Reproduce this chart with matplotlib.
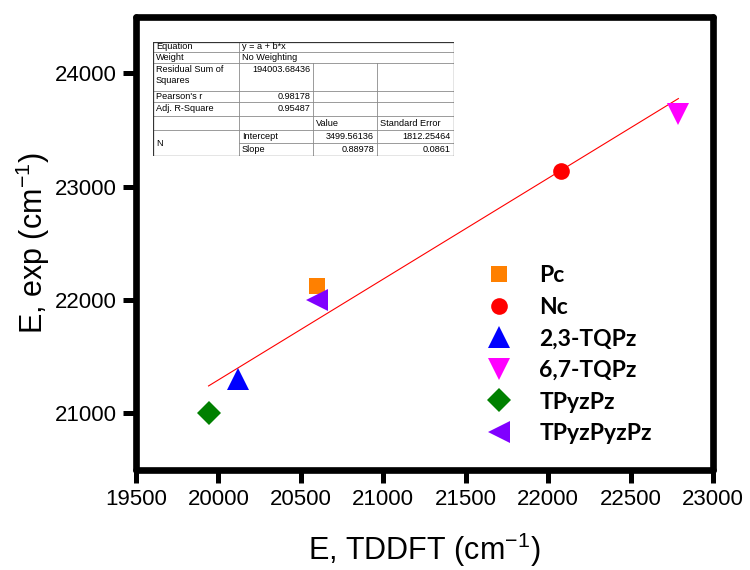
import matplotlib.pyplot as plt
import numpy as np

plt.rcParams['font.family'] = ['Liberation Sans', 'DejaVu Sans']
plt.rcParams['mathtext.default'] = 'regular'

# dados
compostos = ['Pc', 'Nc', '2,3-TQPz', '6,7-TQPz', 'TPyzPz', 'TPyzPyzPz']
e_tddft = [20600, 22080, 20120, 22790, 19940, 20600]
e_exp = [22120, 23140, 21300, 23640, 21000, 22000]
marcadores = ['s', 'o', '^', 'v', 'D', '<']
cores = ['#FF8000', '#FF0000', '#0000FF', '#FF00FF', '#008000', '#8000FF']
tamanhos = [12, 12, 16, 16, 12, 16]

# ajuste linear (valores da tabela)
intercepto = 3499.56136
inclinacao = 0.88978

# tabela de resultados do ajuste
tab_linhas = [
    ('Equation', 'y = a + b*x', '', ''),
    ('Weight', 'No Weighting', '', ''),
    ('Residual Sum of\nSquares', '194003.68436', '', ''),
    ("Pearson's r", '0.98178', '', ''),
    ('Adj. R-Square', '0.95487', '', ''),
    ('', '', 'Value', 'Standard Error'),
    ('N', 'Intercept', '3499.56136', '1812.25464'),
    ('', 'Slope', '0.88978', '0.0861'),
]

W, H = 750, 570
fig = plt.figure(figsize=(W / 100, H / 100), dpi=100)
ax = fig.add_axes([136 / W, 1 - 470 / H, 577 / W, 453.3 / H])

# reta ajustada
xr = np.array([min(e_tddft), max(e_tddft)])
ax.plot(xr, intercepto + inclinacao * xr, color='#FF0000', lw=0.8, zorder=2)

for nome, x, y, m, c, s in zip(compostos, e_tddft, e_exp, marcadores, cores, tamanhos):
    ax.plot(x, y, ls='none', marker=m, color=c, markersize=s, mew=0, label=nome, zorder=3)

ax.set_xlim(19500, 23000)
ax.set_ylim(20500, 24500)
ax.set_xticks(np.arange(19500, 23001, 500))
ax.set_yticks([21000, 22000, 23000, 24000])

for sp in ax.spines.values():
    sp.set_linewidth(4.8)
    sp.set_capstyle('round')
ax.tick_params(width=3.6, length=9.5, pad=4, labelsize=16, direction='out')
ax.tick_params(top=False, right=False)

ax.set_xlabel('E, TDDFT (cm$^{-1}$)', fontsize=22, labelpad=15)
ax.set_ylabel('E, exp (cm$^{-1}$)', fontsize=22, labelpad=2)

leg = ax.legend(loc='upper left', bbox_to_anchor=(0.57, 0.497), frameon=False,
                prop={'family': 'Lato', 'weight': 'bold', 'size': 16.5},
                numpoints=1, handlelength=1.2, handletextpad=1.15, labelspacing=0.46)

# tabela
tab = fig.add_axes([153 / W, 1 - 156 / H, 301 / W, 114.3 / H])
tab.set_xlim(0, 301)
tab.set_ylim(114.3, 0)
tab.axis('off')
cols = [0, 86, 160, 224, 301]
rows = [0, 10, 21, 49.3, 60, 74.3, 88.3, 101, 114.3]
cinza = '#8a8a8a'
for i, r in enumerate(rows):
    x0 = cols[1] if i == 7 else 0
    tab.plot([x0, 301], [r, r], color=cinza, lw=0.6)
tab.plot([cols[1], cols[1]], [0, rows[-1]], color=cinza, lw=0.6)
for c in cols[2:4]:
    tab.plot([c, c], [rows[2], rows[-1]], color=cinza, lw=0.6)
tab.plot([0, 301, 301, 0, 0], [0, 0, 114.3, 114.3, 0], color='#333333', lw=0.9)

fs = 6.6
for i, linha in enumerate(tab_linhas):
    y0, y1 = rows[i], rows[i + 1]
    for j, txt in enumerate(linha):
        if not txt:
            continue
        if j == 0 and txt == 'N':
            tab.text(3, (rows[6] + rows[8]) / 2, txt, fontsize=fs, va='center')
        elif i == 2:
            if j == 0:
                tab.text(3, y0 + 2, txt, fontsize=fs, va='top', linespacing=1.3)
            else:
                tab.text(cols[j + 1] - 3, y0 + 2, txt, fontsize=fs, va='top', ha='right')
        elif i in (0, 1) or j == 0 or (i == 5) or (i >= 6 and j == 1):
            tab.text(cols[j] + 3, (y0 + y1) / 2, txt, fontsize=fs, va='center')
        else:
            tab.text(cols[j + 1] - 3, (y0 + y1) / 2, txt, fontsize=fs, va='center', ha='right')

fig.savefig('out.png', dpi=100)
